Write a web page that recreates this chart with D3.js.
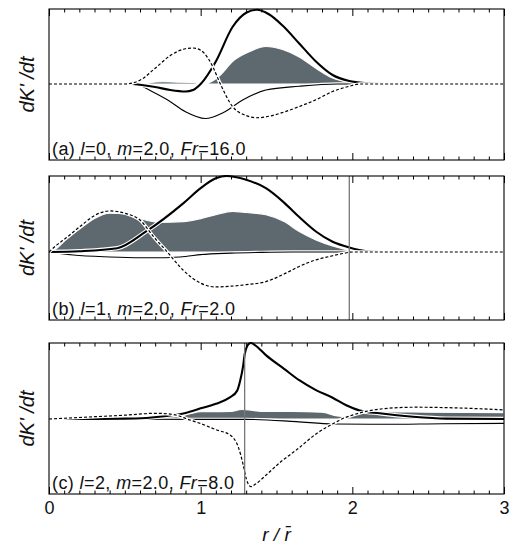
<!DOCTYPE html>
<html><head><meta charset="utf-8">
<script src="https://cdn.jsdelivr.net/npm/d3@7"></script>
<style>body{margin:0;background:#fff}svg{display:block}text{font-family:"Liberation Sans",Arial,sans-serif}</style>
</head><body>
<svg id="c" width="511" height="545"></svg>
<script>
// ---- data (r / r̄ , dK'/dt in arbitrary units; 1 = panel top) ----
const xTickLabels = [0, 1, 2, 3];

const aThick = [[0,0],[0.5,0],[0.55,0],[0.6,-0.01],[0.7,-0.04],[0.8,-0.08],[0.9,-0.1],[0.95,-0.08],[1.0,0],[1.1,0.3],[1.21,0.76],[1.3,0.95],[1.37,0.99],[1.45,0.93],[1.54,0.78],[1.65,0.54],[1.76,0.3],[1.87,0.12],[1.98,0.04],[2.1,0.01],[2.2,0],[3,0]];
const aDash  = [[0,0],[0.5,0],[0.6,0.05],[0.7,0.21],[0.8,0.38],[0.9,0.47],[0.95,0.48],[1.0,0.45],[1.05,0.34],[1.08,0.23],[1.13,0],[1.21,-0.3],[1.3,-0.42],[1.37,-0.45],[1.45,-0.43],[1.54,-0.38],[1.65,-0.3],[1.76,-0.21],[1.87,-0.1],[1.98,-0.03],[2.05,0],[3,0]];
const aThin  = [[0,0],[0.55,0],[0.6,-0.02],[0.67,-0.09],[0.78,-0.21],[0.9,-0.37],[1.03,-0.46],[1.15,-0.38],[1.28,-0.21],[1.43,-0.08],[1.65,-0.03],[1.9,0],[3,0]];
const aFill  = [[0,0],[0.6,0],[0.65,0.015],[0.75,0.03],[0.85,0.025],[0.95,0.02],[1.02,0],[1.13,0.12],[1.21,0.3],[1.32,0.43],[1.43,0.5],[1.54,0.46],[1.65,0.36],[1.76,0.21],[1.87,0.08],[1.98,0.02],[2.05,0],[3,0]];

const bThick = [[0,0],[0.2,0.01],[0.45,0.05],[0.64,0.27],[0.885,0.64],[1.0,0.84],[1.1,0.97],[1.17,1.0],[1.3,0.95],[1.43,0.84],[1.55,0.65],[1.65,0.46],[1.76,0.27],[1.87,0.135],[1.98,0.06],[2.1,0.01],[2.2,0],[3,0]];
const bDash  = [[0,0],[0.05,0.09],[0.116,0.19],[0.226,0.37],[0.3,0.48],[0.4,0.54],[0.5,0.51],[0.6,0.42],[0.69,0.2],[0.78,0],[0.885,-0.24],[1.0,-0.41],[1.1,-0.46],[1.2,-0.45],[1.3,-0.43],[1.43,-0.39],[1.55,-0.29],[1.65,-0.19],[1.75,-0.11],[1.87,-0.05],[1.95,-0.015],[2.0,0],[3,0]];
const bThin  = [[0,0],[0.16,-0.04],[0.4,-0.065],[0.6,-0.075],[0.77,-0.075],[0.9,-0.06],[1.0,-0.035],[1.2,-0.015],[1.4,-0.005],[1.6,0],[3,0]];
const bFill  = [[0,0],[0.03,0.02],[0.116,0.17],[0.226,0.34],[0.3,0.44],[0.4,0.51],[0.51,0.5],[0.6,0.44],[0.73,0.39],[0.885,0.4],[1.0,0.44],[1.1,0.49],[1.21,0.535],[1.3,0.52],[1.43,0.49],[1.55,0.4],[1.65,0.27],[1.76,0.16],[1.87,0.08],[1.96,0.03],[2.0,0],[3,0]];

const cThick = [[0,0],[0.5,0.005],[0.775,0.04],[0.9,0.08],[1.0,0.14],[1.1,0.2],[1.19,0.28],[1.24,0.37],[1.26,0.5],[1.28,0.7],[1.29,0.85],[1.31,0.97],[1.33,1.0],[1.36,0.97],[1.43,0.84],[1.55,0.66],[1.65,0.51],[1.76,0.38],[1.87,0.28],[1.96,0.18],[2.05,0.11],[2.18,0.075],[2.4,0.03],[2.62,0.005],[3,0]];
const cDash  = [[0,0],[0.3,0.03],[0.5,0.05],[0.7,0.075],[0.8,0.065],[0.85,0.045],[0.91,0],[1.0,-0.06],[1.1,-0.14],[1.2,-0.22],[1.25,-0.38],[1.28,-0.6],[1.3,-0.78],[1.33,-0.89],[1.36,-0.86],[1.43,-0.74],[1.53,-0.56],[1.63,-0.41],[1.765,-0.19],[1.875,-0.06],[1.93,0],[2.0,0.05],[2.09,0.1],[2.2,0.135],[2.42,0.155],[2.7,0.145],[3.0,0.12]];
const cThin  = [[0,0],[0.5,-0.003],[1.0,-0.005],[1.3,-0.005],[1.63,-0.035],[1.875,-0.065],[2.2,-0.07],[2.6,-0.062],[3.0,-0.057]];
const cFill  = [[0,0],[0.3,0],[0.4,0.02],[0.6,0.03],[0.85,0.03],[0.93,0.07],[1.0,0.095],[1.2,0.1],[1.27,0.125],[1.32,0.12],[1.4,0.1],[1.6,0.1],[1.8,0.09],[1.9,0.04],[1.97,0.03],[2.05,0.085],[2.2,0.095],[2.5,0.09],[3.0,0.085]];

const vLineB = 1.98, vLineC = 1.29;

const labelA = [["(a) ",0],["l",1],["=0, ",0],["m",1],["=2.0, ",0],["Fr",1],["=16.0",0]];
const labelB = [["(b) ",0],["l",1],["=1, ",0],["m",1],["=2.0, ",0],["Fr",1],["=2.0",0]];
const labelC = [["(c) ",0],["l",1],["=2, ",0],["m",1],["=2.0, ",0],["Fr",1],["=8.0",0]];

// ---- layout ----
const svg = d3.select("#c");
const x = d3.scaleLinear([0, 3], [49, 504]);
const panels = [
  {top: 9,   bottom: 160, dom: [-1.013, 1], thick: aThick, thin: aThin, dash: aDash, fill: aFill, vline: null,   label: labelA},
  {top: 176, bottom: 320, dom: [-0.895, 1], thick: bThick, thin: bThin, dash: bDash, fill: bFill, vline: vLineB, label: labelB},
  {top: 343, bottom: 494, dom: [-0.987, 1], thick: cThick, thin: cThin, dash: cDash, fill: cFill, vline: vLineC, label: labelC}
];
const fillColor = "#5e696f";

panels.forEach((p, i) => {
  const y = d3.scaleLinear(p.dom, [p.bottom, p.top]);
  const g = svg.append("g");
  const clipId = "clip" + i;
  svg.append("defs").append("clipPath").attr("id", clipId)
    .append("rect").attr("x", x(0)).attr("y", p.top - 1).attr("width", x(3) - x(0)).attr("height", p.bottom - p.top + 2);
  const pg = g.append("g").attr("clip-path", `url(#${clipId})`);

  const area = d3.area().x(d => x(d[0])).y0(y(0)).y1(d => y(d[1])).curve(d3.curveMonotoneX);
  const line = d3.line().x(d => x(d[0])).y(d => y(d[1])).curve(d3.curveMonotoneX);

  pg.append("path").attr("d", area(p.fill)).attr("fill", fillColor).attr("stroke", "#fff").attr("stroke-width", 1.2);

  const drawLine = (data, w, dash) => {
    pg.append("path").attr("d", line(data)).attr("fill", "none").attr("stroke", "#fff").attr("stroke-width", w + 2.2);
    const l = pg.append("path").attr("d", line(data)).attr("fill", "none").attr("stroke", "#000").attr("stroke-width", w);
    if (dash) l.attr("stroke-dasharray", dash);
  };
  drawLine(p.thin, 1.1);
  drawLine(p.thick, 2.1);
  drawLine(p.dash, 1.2, "3,2");

  // label with white background
  const lt = g.append("text").attr("x", 52).attr("y", p.bottom - 5).attr("font-size", 18)
    .attr("letter-spacing", 0.4).attr("fill", "#111");
  p.label.forEach(([s, it]) => lt.append("tspan").text(s).attr("font-style", it ? "italic" : "normal"));
  const bb = lt.node().getBBox();
  g.insert("rect", "text").attr("x", x(0) + 1).attr("y", bb.y).attr("width", bb.x + bb.width + 3 - x(0) - 1).attr("height", p.bottom - bb.y).attr("fill", "#fff");

  if (p.vline !== null) {
    g.append("line").attr("x1", x(p.vline)).attr("x2", x(p.vline)).attr("y1", p.top).attr("y2", p.bottom)
      .attr("stroke", "#777").attr("stroke-width", 1.3);
  }

  // frame
  g.append("rect").attr("x", x(0)).attr("y", p.top).attr("width", x(3) - x(0)).attr("height", p.bottom - p.top)
    .attr("fill", "none").attr("stroke", "#000").attr("stroke-width", 1.1);

  // inward ticks, top and bottom
  const minor = d3.range(1, 30).filter(k => k % 10 !== 0).map(k => k / 10);
  const mk = (sel, vals, len, orient) => {
    const ax = (orient === "bottom" ? d3.axisBottom(x) : d3.axisTop(x)).tickValues(vals).tickSizeInner(-len).tickSizeOuter(0).tickFormat("");
    sel.call(ax); sel.select(".domain").remove();
    sel.selectAll(".tick line").attr("stroke", "#000").attr("stroke-width", 1);
  };
  mk(g.append("g").attr("transform", `translate(0,${p.bottom})`), minor, 3.5, "bottom");
  mk(g.append("g").attr("transform", `translate(0,${p.bottom})`), xTickLabels, 7, "bottom");
  mk(g.append("g").attr("transform", `translate(0,${p.top})`), minor, 3.5, "top");
  mk(g.append("g").attr("transform", `translate(0,${p.top})`), xTickLabels, 7, "top");

  // y label
  const cy = (p.top + p.bottom) / 2;
  g.append("text").attr("transform", `translate(34,${cy}) rotate(-90)`).attr("text-anchor", "middle")
    .attr("font-size", 20).attr("font-style", "italic").attr("fill", "#111").text("dK' /dt");
});

// x tick labels and title
const xl = svg.append("g").attr("transform", "translate(0,494)");
xl.call(d3.axisBottom(x).tickValues(xTickLabels).tickSize(0).tickPadding(7).tickFormat(d3.format("d")));
xl.select(".domain").remove();
xl.selectAll("text").attr("font-size", 18).attr("fill", "#111").attr("font-family", '"Liberation Sans",Arial,sans-serif');

const tt = svg.append("text").attr("x", x(1.5)).attr("y", 541).attr("text-anchor", "middle").attr("font-size", 19).attr("font-style", "italic").attr("fill", "#111");
tt.append("tspan").text("r / ");
tt.append("tspan").text("r\u0304");
</script>
</body></html>
